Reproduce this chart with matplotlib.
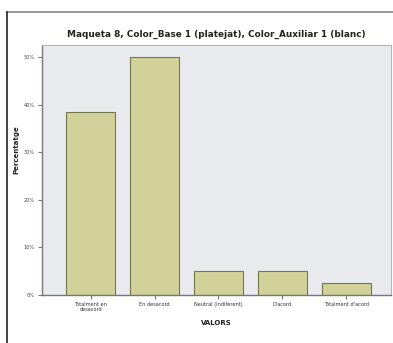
import numpy as np
import matplotlib
matplotlib.use("Agg")
import matplotlib.pyplot as plt
from matplotlib.lines import Line2D

# Data
categories = ["Totalment en\ndesacord", "En desacord", "Neutral (indiferent)",
              "D'acord", "Totalment d'acord"]
percentages = [38.5, 50.0, 5.0, 5.0, 2.5]
y_ticks = [0, 10, 20, 30, 40, 50]
y_tick_labels = ["0%", "10%", "20%", "30%", "40%", "50%"]

fig = plt.figure(figsize=(3.93, 3.43), dpi=100)
ax = fig.add_axes([0.107, 0.14, 0.888, 0.729])

x = np.arange(len(categories))
ax.bar(x, percentages, width=0.77, color="#d2d19a", edgecolor="#76764e", linewidth=0.8)

ax.set_facecolor("#e9eaee")
ax.set_xlim(-0.76, 4.7)
ax.set_ylim(0, 52.6)
ax.set_xticks(x)
ax.set_xticklabels(categories, fontsize=3.6, color="#333333", linespacing=0.9)
ax.set_yticks(y_ticks)
ax.set_yticklabels(y_tick_labels, fontsize=3.6, color="#444444")
ax.tick_params(axis="both", length=3, width=0.8, color="#777777", pad=2)

for side in ["left", "bottom"]:
    ax.spines[side].set_color("#777777")
    ax.spines[side].set_linewidth(1.0)
for side in ["top", "right"]:
    ax.spines[side].set_color("#b5b5b5")
    ax.spines[side].set_linewidth(0.8)

ax.set_title("Maqueta 8, Color_Base 1 (platejat), Color_Auxiliar 1 (blanc)",
             fontsize=6.4, fontweight="bold", color="#222222", pad=6)
ax.set_ylabel("Percentatge", fontsize=5, fontweight="bold", color="#222222")
ax.yaxis.set_label_coords(-0.065, 0.58)
ax.set_xlabel("VALORS", fontsize=5, fontweight="bold", color="#222222", labelpad=6)

# frame around the chart image (top and left)
fig.add_artist(Line2D([0.018, 1.0], [0.965, 0.965], color="#888888", linewidth=1.2))
fig.add_artist(Line2D([0.018, 0.018], [0.0, 0.965], color="#222222", linewidth=1.2))

fig.savefig("out.png", dpi=100)
